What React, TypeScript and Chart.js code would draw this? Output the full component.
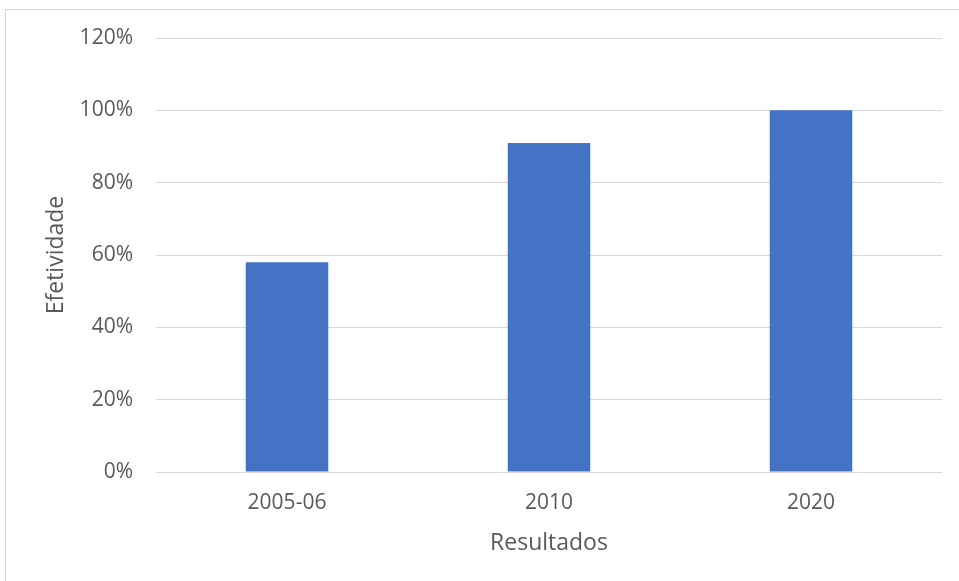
import React, { useEffect, useRef } from "react";
import { Chart, registerables } from "chart.js";

Chart.register(...registerables);

const categories = ["2005-06", "2010", "2020"];
const efetividade = [0.58, 0.91, 1.0];
const yTicks = [0, 0.2, 0.4, 0.6, 0.8, 1.0, 1.2];

const FONT = "'Open Sans', 'Noto Sans', sans-serif";
const TEXT = "#595959";
const GRID = "#d9d9d9";

const borderPlugin = {
  id: "outerBorder",
  beforeDraw(chart: any) {
    const ctx = chart.ctx;
    ctx.save();
    ctx.fillStyle = "#ffffff";
    ctx.fillRect(0, 0, chart.width, chart.height);
    ctx.strokeStyle = GRID;
    ctx.lineWidth = 1;
    ctx.strokeRect(5.5, 9.5, chart.width + 20, chart.height + 20);
    ctx.restore();
  },
};

export default function App() {
  const ref = useRef<HTMLCanvasElement | null>(null);
  useEffect(() => {
    if (!ref.current) return;
    const chart = new Chart(ref.current, {
      type: "bar",
      data: {
        labels: categories,
        datasets: [
          {
            label: "Efetividade",
            data: efetividade,
            backgroundColor: "#4472C4",
            borderWidth: 0,
            barPercentage: 0.315,
            categoryPercentage: 1,
          },
        ],
      },
      plugins: [borderPlugin],
      options: {
        animation: false,
        responsive: false,
        layout: { padding: { left: 0, top: 38, right: 17, bottom: 0 } },
        plugins: { legend: { display: false }, tooltip: { enabled: false } },
        scales: {
          x: {
            grid: { display: false, drawTicks: false },
            border: { display: false },
            ticks: {
              color: TEXT,
              font: { family: FONT, size: 21 },
              padding: 18,
            },
            title: {
              display: true,
              text: "Resultados",
              color: TEXT,
              font: { family: FONT, size: 23 },
              padding: { top: 0, bottom: 24 },
            },
            afterFit(scale: any) {
              scale.height = 109;
            },
          },
          y: {
            min: 0,
            max: 1.2,
            afterBuildTicks(scale: any) {
              scale.ticks = yTicks.map((v) => ({ value: v }));
            },
            grid: { color: GRID, lineWidth: 1, drawTicks: false },
            border: { display: false },
            ticks: {
              color: TEXT,
              font: { family: FONT, size: 21 },
              padding: 23,
              callback: (v: any) => Math.round(Number(v) * 100) + "%",
            },
            title: {
              display: true,
              text: "Efetividade",
              color: TEXT,
              font: { family: FONT, size: 23 },
              padding: { top: 43, bottom: 0 },
            },
            afterFit(scale: any) {
              scale.width = 156;
            },
          },
        },
      },
    });
    return () => chart.destroy();
  }, []);
  return (
    <div style={{ position: "fixed", left: 0, top: 0, width: 959, height: 581, background: "#fff" }}>
      <canvas ref={ref} width={959} height={581} style={{ display: "block" }} />
    </div>
  );
}
